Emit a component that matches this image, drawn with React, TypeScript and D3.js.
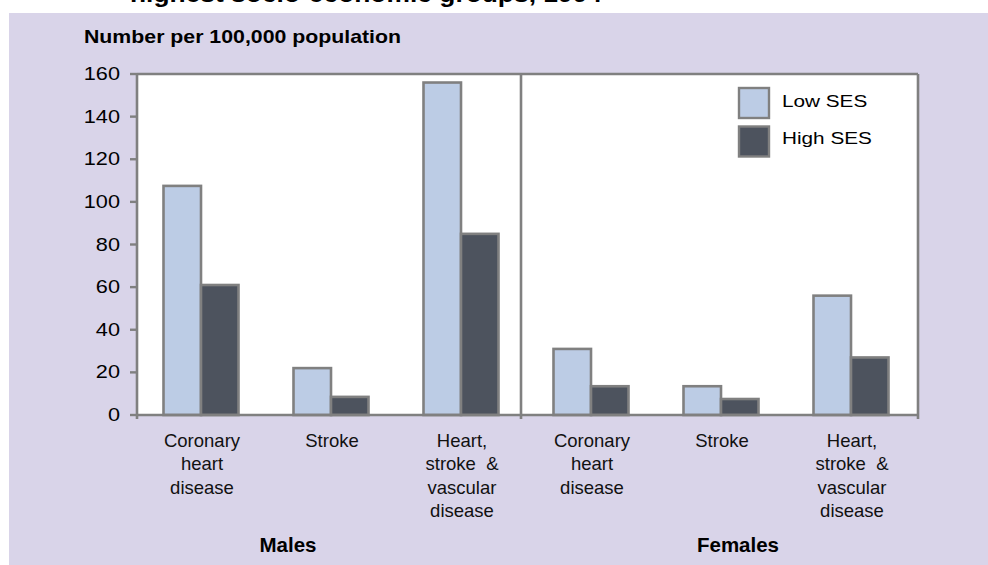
import React from "react";
import * as d3 from "d3";

const groups = ["Males", "Females"];
const categories = [
  ["Coronary", "heart", "disease"],
  ["Stroke"],
  ["Heart,", "stroke  &", "vascular", "disease"],
];
const series = ["Low SES", "High SES"];
const maleLow = [107.5, 22, 156];
const maleHigh = [61, 8.5, 85];
const femaleLow = [31, 13.5, 56];
const femaleHigh = [13.5, 7.5, 27];
const yTicks = [0, 20, 40, 60, 80, 100, 120, 140, 160];
const title = "highest socio-economic groups, 1994";
const yTitle = "Number per 100,000 population";

const W = 988;
const H = 565;
const FONT = "'Liberation Sans', Arial, Helvetica, sans-serif";
const BG = "#d9d4e9";
const GRAY = "#808080";
const COLORS = ["#bccce5", "#4d535e"];

type Row = { key: string; group: number; cat: number; vals: number[] };
const rows: Row[] = [];
groups.forEach((g, gi) => {
  const low = gi === 0 ? maleLow : femaleLow;
  const high = gi === 0 ? maleHigh : femaleHigh;
  categories.forEach((_, ci) => {
    rows.push({ key: `${g}-${ci}`, group: gi, cat: ci, vals: [low[ci], high[ci]] });
  });
});

export default function App() {
  const plot = { left: 137, right: 918, top: 74, bottom: 415 };
  const divider = 521;
  const y = d3.scaleLinear().domain([0, 160]).range([plot.bottom, plot.top]);
  const x = d3
    .scaleBand<string>()
    .domain(rows.map((r) => r.key))
    .range([136, 916])
    .padding(0);
  const barW = 37.5;
  const xs = d3.scaleBand<number>().domain([0, 1]).range([-barW, barW]).padding(0);
  const center = (k: string) => (x(k) as number) + x.bandwidth() / 2;
  const groupLabelX = [288, 738];

  return (
    <svg
      width={W}
      height={H}
      style={{ position: "absolute", left: 0, top: 0, display: "block" }}
      fontFamily={FONT}
    >
      <rect x={0} y={0} width={W} height={H} fill="#ffffff" />
      <text
        x={130}
        y={2}
        fontSize={23}
        fontWeight="bold"
        textLength={472}
        lengthAdjust="spacingAndGlyphs"
        fill="#000"
      >
        {title}
      </text>
      <rect x={9} y={13} width={W - 9} height={H - 13} fill={BG} />
      <text
        x={84}
        y={43}
        fontSize={18.5}
        fontWeight="bold"
        textLength={317}
        lengthAdjust="spacingAndGlyphs"
        fill="#000"
      >
        {yTitle}
      </text>
      <rect
        x={plot.left}
        y={plot.top}
        width={plot.right - plot.left}
        height={plot.bottom - plot.top}
        fill="#ffffff"
      />
      {/* bars */}
      {rows.map((r) =>
        r.vals.map((v, si) => (
          <rect
            key={r.key + si}
            x={center(r.key) + (xs(si) as number)}
            y={y(v)}
            width={xs.bandwidth()}
            height={y(0) - y(v)}
            fill={COLORS[si]}
            stroke={GRAY}
            strokeWidth={2.6}
          />
        ))
      )}
      {/* frame */}
      <line x1={plot.left} x2={plot.right} y1={plot.top} y2={plot.top} stroke={GRAY} strokeWidth={2.6} />
      <line x1={plot.right} x2={plot.right} y1={plot.top} y2={plot.bottom + 4} stroke={GRAY} strokeWidth={2.6} />
      <line x1={divider} x2={divider} y1={plot.top} y2={plot.bottom + 4} stroke={GRAY} strokeWidth={2.6} />
      <line x1={plot.left} x2={plot.left} y1={plot.top} y2={plot.bottom + 4} stroke={GRAY} strokeWidth={2.6} />
      <line x1={plot.left} x2={plot.right} y1={plot.bottom} y2={plot.bottom} stroke={GRAY} strokeWidth={2.6} />
      {/* y ticks */}
      {yTicks.map((t) => (
        <g key={t}>
          <line x1={plot.left - 7} x2={plot.left} y1={y(t)} y2={y(t)} stroke={GRAY} strokeWidth={2.4} />
          <text
            transform={`translate(${plot.left - 17},${y(t) + 6}) scale(1.24,1)`}
            textAnchor="end"
            fontSize={17.5}
            fill="#000"
          >
            {t}
          </text>
        </g>
      ))}
      {/* category labels */}
      {rows.map((r) => (
        <text key={"l" + r.key} textAnchor="middle" fontSize={18.5} fill="#111">
          {categories[r.cat].map((line, li) => (
            <tspan key={li} x={center(r.key) + 1} y={446.5 + li * 23.6} style={{ whiteSpace: "pre" }}>
              {line}
            </tspan>
          ))}
        </text>
      ))}
      {groups.map((g, gi) => (
        <text
          key={g}
          x={groupLabelX[gi]}
          y={551.5}
          textAnchor="middle"
          fontSize={20.5}
          fontWeight="bold"
          fill="#000"
        >
          {g}
        </text>
      ))}
      {/* legend */}
      {series.map((s, si) => (
        <g key={s}>
          <rect
            x={739}
            y={88 + si * 38.5}
            width={30}
            height={30}
            fill={COLORS[si]}
            stroke={GRAY}
            strokeWidth={2.4}
          />
          <text
            transform={`translate(782,${107 + si * 37}) scale(1.22,1)`}
            fontSize={17}
            fill="#000"
          >
            {s}
          </text>
        </g>
      ))}
    </svg>
  );
}
